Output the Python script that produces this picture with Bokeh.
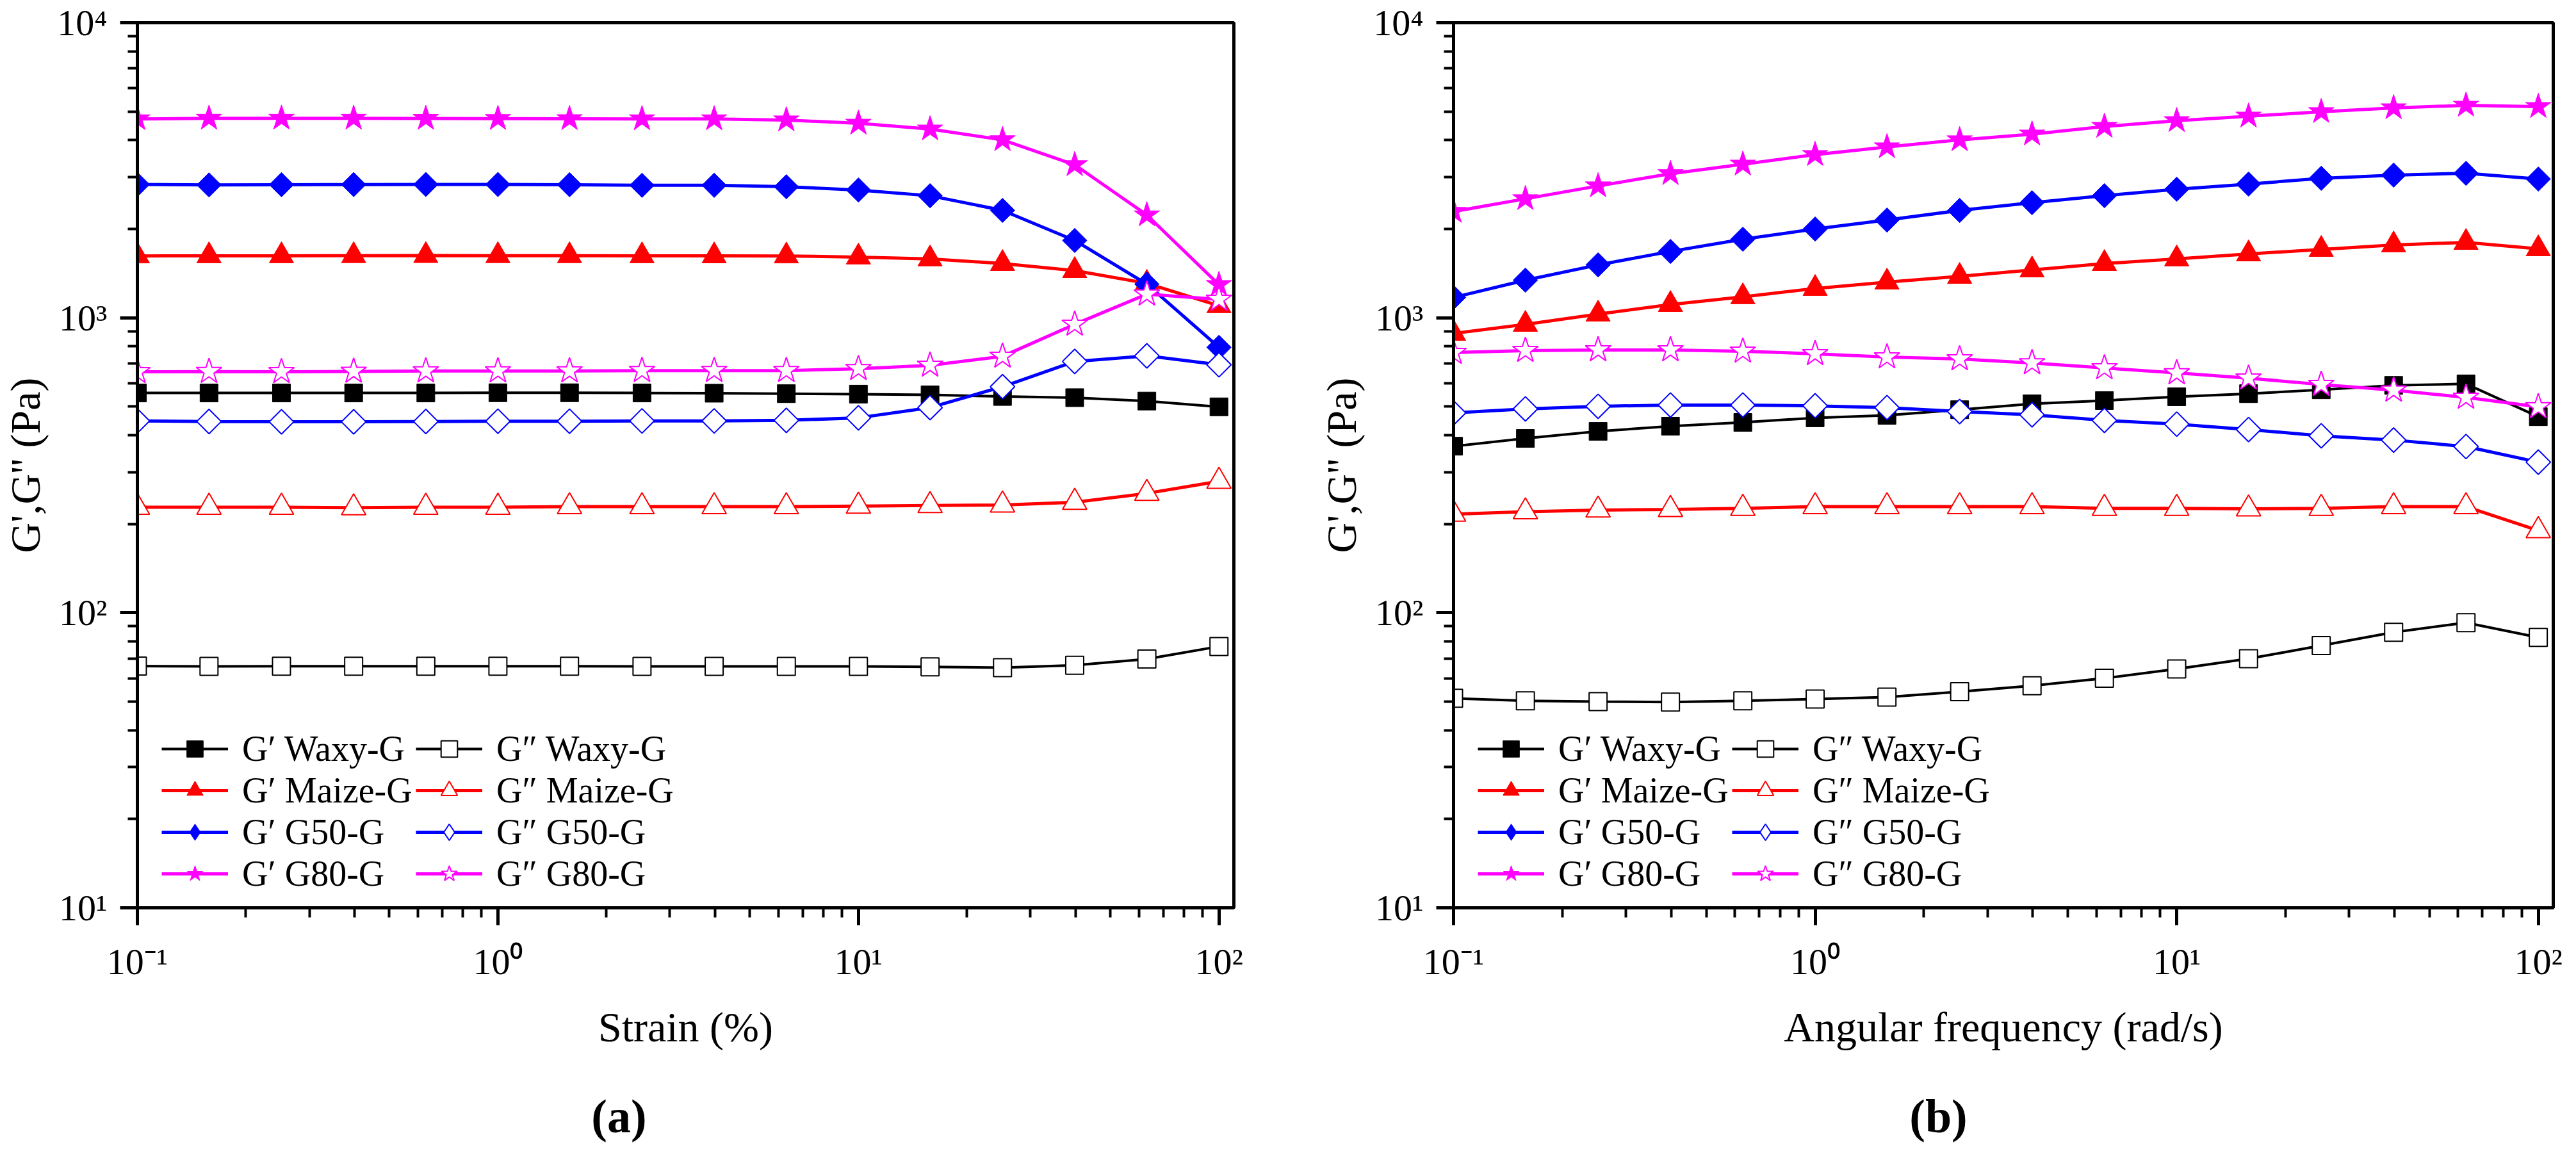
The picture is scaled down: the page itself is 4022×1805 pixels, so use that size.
from bokeh.plotting import figure
from bokeh.layouts import row, column
from bokeh.models import (Range1d, FixedTicker, CustomJSTickFormatter, Legend,
                          LegendItem)
from bokeh.core.properties import value
from bokeh.embed import file_html
from bokeh.resources import INLINE
import math

# ---------------- data ----------------
strain = [0.1, 0.158, 0.251, 0.398, 0.631, 1.0, 1.58, 2.51, 3.98, 6.31,
          10.0, 15.8, 25.1, 39.8, 63.1, 100.0]
freq = [0.1, 0.158, 0.251, 0.398, 0.631, 1.0, 1.58, 2.51, 3.98, 6.31,
        10.0, 15.8, 25.1, 39.8, 63.1, 100.0]

# (a) strain sweep
a_gp_waxy = [556, 556, 556, 556, 556, 557, 557, 556, 555, 553, 551, 548, 541, 536, 522, 499]
a_gpp_waxy = [66.0, 65.8, 65.9, 65.9, 65.9, 65.9, 65.9, 65.8, 65.8, 65.8, 65.8, 65.6, 65.2, 66.4, 69.7, 76.9]
a_gp_maize = [1620, 1622, 1622, 1624, 1625, 1624, 1623, 1622, 1621, 1620, 1606, 1583, 1527, 1445, 1308, 1099]
a_gpp_maize = [228, 228, 228, 227, 228, 228, 229, 229, 229, 229, 230, 231, 232, 237, 254, 279]
a_gp_g50 = [2830, 2820, 2825, 2828, 2830, 2830, 2825, 2812, 2812, 2780, 2710, 2592, 2312, 1828, 1300, 794]
a_gpp_g50 = [447, 445, 444, 444, 445, 446, 446, 447, 447, 449, 458, 496, 584, 711, 743, 693]
a_gp_g80 = [4720, 4740, 4740, 4740, 4735, 4730, 4725, 4720, 4720, 4680, 4560, 4360, 4010, 3300, 2230, 1295]
a_gpp_g80 = [656, 657, 656, 658, 660, 660, 660, 662, 662, 662, 672, 690, 740, 950, 1202, 1154]

# (b) frequency sweep
b_gp_waxy = [367, 390, 412, 429, 442, 458, 467, 488, 511, 524, 540, 553, 570, 590, 597, 462]
b_gpp_waxy = [51.3, 50.3, 50.0, 49.8, 50.3, 51.0, 51.8, 54.0, 56.6, 60.0, 64.5, 69.9, 77.4, 85.9, 92.6, 82.5]
b_gp_maize = [885, 950, 1029, 1109, 1178, 1257, 1321, 1381, 1452, 1527, 1583, 1646, 1705, 1766, 1800, 1713]
b_gpp_maize = [216, 220, 223, 224, 226, 229, 229, 229, 229, 226, 226, 225, 226, 229, 229, 190]
b_gp_g50 = [1172, 1341, 1511, 1678, 1846, 1999, 2144, 2311, 2455, 2593, 2727, 2839, 2970, 3044, 3088, 2953]
b_gpp_g50 = [476, 491, 501, 506, 506, 503, 496, 481, 469, 449, 436, 418, 398, 385, 366, 324]
b_gp_g80 = [2291, 2531, 2797, 3078, 3314, 3572, 3793, 4008, 4192, 4450, 4654, 4821, 4994, 5144, 5248, 5196]
b_gpp_g80 = [762, 774, 778, 778, 770, 755, 736, 725, 703, 676, 650, 624, 594, 568, 537, 499]

samples = ["Waxy-G", "Maize-G", "G50-G", "G80-G"]
colors = ["#000000", "#FF0000", "#0000FF", "#FF00FF"]
plot_markers = ["square", "triangle", "square", "star"]
legend_markers = ["square", "triangle", "diamond", "star"]
marker_angles = [0.0, 0.0, math.pi / 4, 0.0]
marker_sizes = [28, 38, 27, 42]

panel_tags = ["(a)", "(b)"]
x_label_a = "Strain (%)"
x_label_b = "Angular frequency (rad/s)"
y_label = "G',G'' (Pa)"

FONT = "Liberation Serif"

sup_js = """
const sup = {'-':'\u207b','0':'\u2070','1':'\u00b9','2':'\u00b2','3':'\u00b3','4':'\u2074'};
const e = Math.round(Math.log10(tick));
return '10' + String(e).split('').map(c => sup[c]).join('');
"""

MAIN_H = 1692
TAG_H = 97


def make_panel(x, gp, gpp, xlabel, left_border, right_border, frame_w):
    p = figure(width=left_border + frame_w + right_border, height=MAIN_H,
               x_axis_type="log", y_axis_type="log",
               x_range=Range1d(0.1, 110), y_range=Range1d(10, 10000),
               output_backend="svg", toolbar_location=None,
               min_border_left=left_border, min_border_right=right_border,
               min_border_top=35, min_border_bottom=MAIN_H - 35 - 1382)
    p.xgrid.visible = False
    p.ygrid.visible = False
    p.outline_line_color = "black"
    p.outline_line_width = 5
    p.background_fill_color = "white"
    p.border_fill_color = "white"

    xmin = [m * 10.0 ** d for d in (-1, 0, 1) for m in range(2, 10)]
    ymin = [m * 10.0 ** d for d in (1, 2, 3) for m in range(2, 10)]
    p.xaxis.ticker = FixedTicker(ticks=[0.1, 1, 10, 100], minor_ticks=xmin)
    p.yaxis.ticker = FixedTicker(ticks=[10, 100, 1000, 10000], minor_ticks=ymin)
    for ax in (p.xaxis[0], p.yaxis[0]):
        ax.formatter = CustomJSTickFormatter(code=sup_js)
        ax.axis_line_width = 5
        ax.major_tick_line_width = 5
        ax.minor_tick_line_width = 4
        ax.major_tick_out = 27
        ax.major_tick_in = 0
        ax.minor_tick_out = 15
        ax.minor_tick_in = 0
        ax.major_label_text_font = FONT
        ax.major_label_text_font_size = "58px"
        ax.major_label_text_color = "black"
        ax.axis_label_text_font = FONT
        ax.axis_label_text_font_size = "66px"
        ax.axis_label_text_font_style = "normal"
        ax.axis_label_text_color = "black"
    p.xaxis.axis_label = xlabel
    p.yaxis.axis_label = y_label
    p.xaxis.major_label_standoff = 24
    p.yaxis.major_label_standoff = 20
    p.xaxis.axis_label_standoff = 30
    p.yaxis.axis_label_standoff = 10

    items_gp, items_gpp = [], []
    for i in range(4):
        c = colors[i]
        lw = 4 if i == 0 else 5
        # G'
        l1 = p.line(x, gp[i], line_color=c, line_width=lw)
        s1 = p.scatter(x, gp[i], marker=plot_markers[i], size=marker_sizes[i],
                       angle=marker_angles[i], fill_color=c,
                       line_color=c, line_width=1)
        # G''
        l2 = p.line(x, gpp[i], line_color=c, line_width=lw)
        s2 = p.scatter(x, gpp[i], marker=plot_markers[i], size=marker_sizes[i],
                       angle=marker_angles[i], fill_color="white",
                       line_color=c, line_width=2)
        r1, r2 = [l1, s1], [l2, s2]
        if legend_markers[i] != plot_markers[i]:
            # legend proxy glyphs (zero size in the plot itself)
            d1 = p.scatter(x, gp[i], marker=legend_markers[i], size=0,
                           fill_color=c, line_color=c, line_width=1)
            d2 = p.scatter(x, gpp[i], marker=legend_markers[i], size=0,
                           fill_color="white", line_color=c, line_width=2)
            r1, r2 = [l1, d1], [l2, d2]
        items_gp.append(LegendItem(label="G\u2032 " + samples[i], renderers=r1))
        items_gpp.append(LegendItem(label="G\u2033 " + samples[i], renderers=r2))

    leg = Legend(items=items_gp + items_gpp, ncols=2, location=(38, 21),
                 orientation="vertical",
                 glyph_width=104, glyph_height=64, label_height=64,
                 label_width=270, label_standoff=22, spacing=1, padding=0,
                 margin=0, background_fill_alpha=0, border_line_alpha=0,
                 label_text_font=FONT, label_text_font_size="56px",
                 label_text_color="black")
    p.add_layout(leg, "center")
    return p


pa = make_panel(strain,
                [a_gp_waxy, a_gp_maize, a_gp_g50, a_gp_g80],
                [a_gpp_waxy, a_gpp_maize, a_gpp_g50, a_gpp_g80],
                x_label_a, 211, 77, 1715)
pb = make_panel(freq,
                [b_gp_waxy, b_gp_maize, b_gp_g50, b_gp_g80],
                [b_gpp_waxy, b_gpp_maize, b_gpp_g50, b_gpp_g80],
                x_label_b, 266, 20, 1717)

# strip carrying the panel tags (a), (b) centred under each panel (pixel space)
total_w = pa.width + pb.width
tags = figure(width=total_w, height=TAG_H, x_range=Range1d(0, total_w),
              y_range=Range1d(0, TAG_H), output_backend="svg",
              toolbar_location=None, min_border=0, x_axis_location=None,
              y_axis_location=None)
tags.xgrid.visible = False
tags.ygrid.visible = False
tags.outline_line_color = None
tags.background_fill_color = "white"
tags.border_fill_color = "white"
tags.text(x=[966, 3026], y=[TAG_H - 50, TAG_H - 50], text=panel_tags,
          text_align="center", text_baseline="middle",
          text_font=value(FONT), text_font_size="74px",
          text_font_style="bold", text_color="black")

layout = column(row(pa, pb, spacing=0), tags, spacing=0)
open("out.html", "w").write(file_html(layout, INLINE))
